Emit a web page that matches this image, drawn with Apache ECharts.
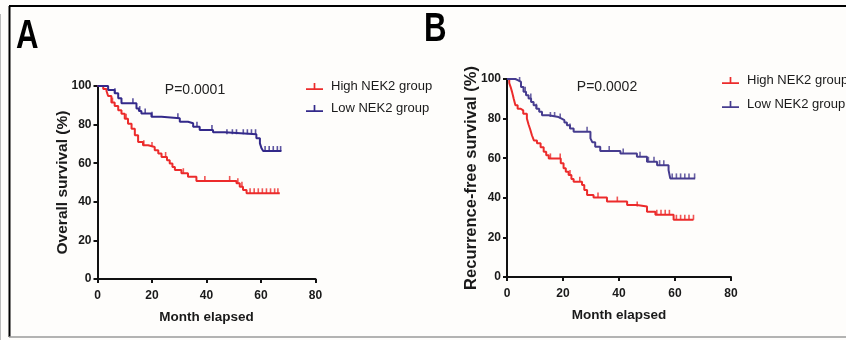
<!DOCTYPE html>
<html>
<head>
<meta charset="utf-8">
<script src="https://cdn.jsdelivr.net/npm/echarts@6/dist/echarts.min.js"></script>
<style>
html,body{margin:0;padding:0;background:#fefdfb;}
#c{width:846px;height:340px;}
</style>
</head>
<body>
<div id="c"></div>
<script>
// ---- Data ----
const xTicks = [0, 20, 40, 60, 80];
const yTicks = [0, 20, 40, 60, 80, 100];
const seriesNames = ['High NEK2 group', 'Low NEK2 group'];

// Panel A: Overall survival  [month, %]
const osHigh = [[0,100],[2.1,98.5],[3.3,97.4],[3.9,94.8],[5.1,91.4],[6.3,89.6],[7.6,87.4],[8.8,85.6],[10,83],[11.2,80.5],[12.5,77.9],[13.7,74.5],[14.9,71],[16.7,69.3],[18.6,68.4],[21,66.7],[22.3,65],[23.5,63.2],[25.5,61.5],[26.5,59.9],[27.5,58],[28.4,56.5],[30.8,54.8],[33.2,53],[36.3,50.8],[51,49.6],[52.2,47.8],[53.4,46.1],[54.7,44.4],[66.9,44.4]];
const osLow = [[0,100],[2.7,100],[3.9,97.9],[6.3,96.2],[7.6,93.6],[8.8,91],[14.3,88.4],[15.2,87],[16.1,85.8],[19.8,84.1],[23.5,83.3],[30.2,81.5],[33.2,80.7],[35.1,78.9],[37.5,77.2],[42.4,76],[46.7,75],[58.3,72.9],[59.6,70.3],[60.2,67.7],[60.8,66.3],[67.5,66.3]];
const osHighCensor = [5.5, 10.5, 17, 20, 25, 31.5, 39.4, 48.5, 51.5, 53, 56, 57.5, 59, 60.5, 62, 63.5, 65, 66.2];
const osLowCensor = [6.4, 13, 15.5, 17.5, 20, 29.5, 36.5, 42, 47.5, 49.5, 51, 53.5, 55, 56.5, 58, 61.5, 63, 64.5, 66, 67.2];

// Panel B: Recurrence-free survival  [month, %]
const rfsHigh = [[0,100],[0.8,98],[1.4,95.5],[1.8,93.5],[2.4,90],[3,86.8],[3.8,85],[4.8,84.2],[5.8,82.5],[7.1,80],[7.7,77],[8.3,74.5],[8.9,71.6],[9.6,69],[10.7,67.5],[12,65.5],[13.1,63.2],[14,61.5],[14.9,59.9],[19.2,57.5],[20.2,54.9],[21,53.2],[22,51.5],[23,49.5],[23.8,48.1],[26.8,46.5],[27.6,44],[28.6,41.4],[30.9,40.1],[35.7,38.1],[42.9,36.4],[46.4,35.6],[50,33],[53,31.4],[59.5,28.9],[66.6,28.9]];
const rfsLow = [[0,100],[1.8,100],[3,99.2],[4.2,98.5],[5,96],[5.9,93.5],[6.8,91.8],[7.7,90.1],[8.6,88.4],[9.5,86.8],[10.5,85],[11.5,83.4],[12.5,81.7],[14.9,80.8],[18.4,80],[19.5,79.2],[20.5,78],[21.4,76.7],[22.5,75],[23.8,73.3],[29.8,70],[30.5,68],[31.5,65.8],[33.3,63.6],[40.5,62.4],[46.4,60.7],[50,58.2],[53.6,56.5],[57.7,54],[58.3,49.8],[67.2,49.8]];
const rfsHighCensor = [15.5, 19, 22.5, 26, 32.5, 39.4, 46.5, 53.5, 55, 56.5, 58, 60.5, 62, 63.5, 65, 66.6];
const rfsLowCensor = [4.5, 6.5, 8.5, 10.5, 15.5, 17, 19, 22.5, 28.6, 36.5, 41.5, 47.5, 50.5, 52.5, 54.5, 56, 59, 60.5, 62, 63.5, 65, 67];

const RED = '#ec2b2b';
const BLUE = '#33298a';
const BLUE_B = '#463c8f';

function stepAt(curve, t) {
  let v = curve[0][1];
  for (const p of curve) { if (p[0] <= t) v = p[1]; }
  return v;
}
function censorPts(curve, times) { return times.map(t => [t, stepAt(curve, t)]); }

const sans = "'Liberation Sans',Arial,sans-serif";

function xAxis(gi) {
  return {
    gridIndex: gi, type: 'value', min: xTicks[0], max: xTicks[xTicks.length-1], interval: 20,
    name: 'Month elapsed', nameLocation: 'middle', nameGap: 31,
    nameTextStyle: {fontFamily: sans, fontWeight: 'bold', fontSize: 13.5, color: '#1a1a1a'},
    axisLine: {onZero: false, lineStyle: {color: '#111', width: 2}},
    axisTick: {length: 4, lineStyle: {color: '#111', width: 2}},
    axisLabel: {fontFamily: sans, fontWeight: 'bold', fontSize: 12, color: '#1a1a1a', margin: 11},
    splitLine: {show: false}
  };
}
function yAxis(gi, name, fs, gap) {
  return {
    gridIndex: gi, type: 'value', min: yTicks[0], max: yTicks[yTicks.length-1], interval: 20,
    name: name, nameLocation: 'middle', nameGap: gap, nameMoveOverlap: false,
    nameTextStyle: {fontFamily: sans, fontWeight: 'bold', fontSize: fs, color: '#1a1a1a'},
    axisLine: {show: true, lineStyle: {color: '#111', width: 2}},
    axisTick: {show: true, length: 4, lineStyle: {color: '#111', width: 2}},
    axisLabel: {fontFamily: sans, fontWeight: 'bold', fontSize: 12, color: '#1a1a1a', margin: 6},
    splitLine: {show: false}
  };
}
function kmLine(name, gi, data, color) {
  return {name: name, type: 'line', xAxisIndex: gi, yAxisIndex: gi, step: 'end', data: data,
    showSymbol: false, symbol: 'none', lineStyle: {color: color, width: 2}, itemStyle: {color: color},
    animation: false, silent: true, z: 3};
}
const tickPath = 'path://M0,0 L1,0 L1,10 L0,10 Z';
function censor(name, gi, data, color) {
  return {name: name, type: 'scatter', xAxisIndex: gi, yAxisIndex: gi, data: data,
    symbol: tickPath, symbolSize: [1.6, 5], symbolOffset: [0, -2.5],
    itemStyle: {color: color}, animation: false, silent: true, z: 4};
}
const legendIcon = 'path://M0,8 L9,8 L9,2 L11,2 L11,8 L20,8 L20,10 L0,10 Z';
function legend(left, top, gap, colors) {
  return {
    left: left, top: top, orient: 'vertical', itemGap: gap, itemWidth: 17, itemHeight: 8,
    data: seriesNames.map((n, i) => ({name: n, icon: legendIcon, itemStyle: {color: colors[i]}})),
    textStyle: {fontFamily: sans, fontSize: 13, color: '#1a1a1a', padding: [0,0,0,3]},
    selectedMode: false
  };
}

const chart = echarts.init(document.getElementById('c'), null, {renderer: 'canvas'});
chart.setOption({
  backgroundColor: '#fefdfb',
  animation: false,
  grid: [
    {left: 97.5, top: 86, width: 218, height: 193},
    {left: 507, top: 79, width: 224, height: 198}
  ],
  xAxis: [xAxis(0), xAxis(1)],
  yAxis: [yAxis(0, 'Overall survival (%)', 15.5, 27), yAxis(1, 'Recurrence-free survival (%)', 16.5, 27)],
  legend: [legend(301, 75, 9, [RED, BLUE]), legend(717, 69, 11, [RED, BLUE_B])],
  series: [
    kmLine(seriesNames[0], 0, osHigh, RED),
    kmLine(seriesNames[1], 0, osLow, BLUE),
    censor(seriesNames[0], 0, censorPts(osHigh, osHighCensor), RED),
    censor(seriesNames[1], 0, censorPts(osLow, osLowCensor), BLUE),
    kmLine(seriesNames[0], 1, rfsHigh, RED),
    kmLine(seriesNames[1], 1, rfsLow, BLUE_B),
    censor(seriesNames[0], 1, censorPts(rfsHigh, rfsHighCensor), RED),
    censor(seriesNames[1], 1, censorPts(rfsLow, rfsLowCensor), BLUE_B)
  ],
  graphic: [
    {type: 'line', shape: {x1: 9, y1: 6, x2: 846, y2: 6}, style: {stroke: '#000', lineWidth: 2}},
    {type: 'line', shape: {x1: 9.5, y1: 6, x2: 9.5, y2: 337}, style: {stroke: '#000', lineWidth: 2}},
    {type: 'line', shape: {x1: 9, y1: 337, x2: 846, y2: 337}, style: {stroke: '#9a9a9a', lineWidth: 1.5}},
    {type: 'line', shape: {x1: 0.5, y1: 14, x2: 0.5, y2: 340}, style: {stroke: '#bbbbbb', lineWidth: 1}},
    {type: 'text', x: 16, y: 17, scaleX: 0.78, style: {text: 'A', fontFamily: sans, fontWeight: 'bold', fontSize: 40, fill: '#000'}},
    {type: 'text', x: 424, y: 10, scaleX: 0.78, style: {text: 'B', fontFamily: sans, fontWeight: 'bold', fontSize: 40, fill: '#000'}},
    {type: 'text', x: 195, y: 90, style: {text: 'P=0.0001', fontFamily: sans, fontSize: 14, fill: '#222', align: 'center', verticalAlign: 'middle'}},
    {type: 'text', x: 607, y: 87, style: {text: 'P=0.0002', fontFamily: sans, fontSize: 14, fill: '#222', align: 'center', verticalAlign: 'middle'}}
  ]
});
</script>
</body>
</html>
